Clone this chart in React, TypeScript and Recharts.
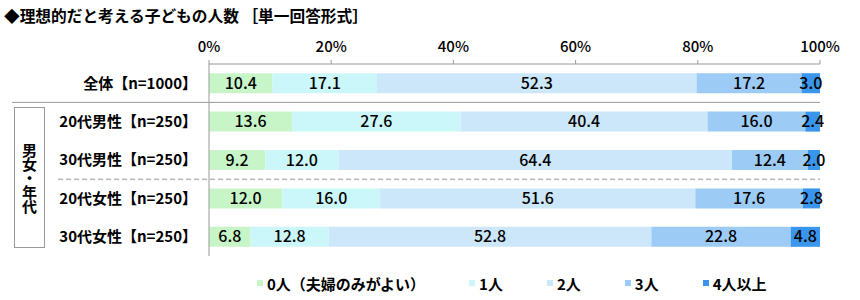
import React from 'react';
import { BarChart, Bar, XAxis, YAxis, LabelList, ReferenceLine, Legend } from 'recharts';

const title = '◆理想的だと考える子どもの人数 ［単一回答形式］';
const groupLabel = '男女・年代';
const categories = ['全体【n=1000】', '20代男性【n=250】', '30代男性【n=250】', '20代女性【n=250】', '30代女性【n=250】'];
const seriesNames = ['0人（夫婦のみがよい）', '1人', '2人', '3人', '4人以上'];
const zeroKids = [10.4, 13.6, 9.2, 12.0, 6.8];
const oneKid = [17.1, 27.6, 12.0, 16.0, 12.8];
const twoKids = [52.3, 40.4, 64.4, 51.6, 52.8];
const threeKids = [17.2, 16.0, 12.4, 17.6, 22.8];
const fourPlus = [3.0, 2.4, 2.0, 2.8, 4.8];
const xTicks = [0, 20, 40, 60, 80, 100];

const colors = ['#c8f5c8', '#ccf7fa', '#cce6fa', '#9ccbf5', '#3a96ec'];
const seriesValues = [zeroKids, oneKid, twoKids, threeKids, fourPlus];
const keys = ['s0', 's1', 's2', 's3', 's4'];

const data = categories.map((c, i) => {
  const row: any = { name: c };
  keys.forEach((k, j) => {
    row[k] = seriesValues[j][i];
  });
  return row;
});

const CJK = '"Noto Sans CJK JP", "Liberation Sans", sans-serif';

const LegendContent = (props: any) => {
  const payload = props.payload || [];
  return (
    <div style={{ display: 'flex', alignItems: 'center', height: 22, paddingLeft: 257, fontFamily: CJK, fontWeight: 700, fontSize: 15, color: '#000' }}>
      {payload.map((p: any, i: number) => (
        <div key={i} style={{ display: 'flex', alignItems: 'center', marginRight: 44 }}>
          <span style={{ display: 'inline-block', width: 6, height: 6, background: p.color, marginRight: 4 }} />
          <span>{p.value}</span>
        </div>
      ))}
    </div>
  );
};

const longLine = (leftX: number, dashed: boolean) => (p: any) => (
  <line
    x1={leftX}
    y1={p.y1}
    x2={p.x2}
    y2={p.y2}
    stroke="#999"
    strokeWidth={1}
    strokeDasharray={dashed ? '5 3' : undefined}
  />
);

export default function App() {
  return (
    <div style={{ position: 'absolute', left: 0, top: 0, width: 860, height: 300, background: '#fff' }}>
      <div style={{ position: 'absolute', left: 4, top: 6, fontFamily: CJK, fontWeight: 700, fontSize: 15.7, lineHeight: '20px', color: '#000', whiteSpace: 'nowrap' }}>
        {title}
      </div>
      <div
        style={{
          position: 'absolute',
          left: 14,
          top: 107,
          width: 31,
          height: 141,
          border: '1px solid #999',
          boxSizing: 'border-box',
          display: 'flex',
          alignItems: 'center',
          justifyContent: 'center',
          fontFamily: CJK,
          fontWeight: 700,
          fontSize: 15,
          color: '#000',
        }}
      >
        <span style={{ writingMode: 'vertical-rl', textOrientation: 'upright', lineHeight: 1, letterSpacing: -1 }}>{groupLabel}</span>
      </div>
      <BarChart
        width={860}
        height={300}
        data={data}
        layout="vertical"
        margin={{ top: 0, right: 40, bottom: 22, left: 0 }}
        barCategoryGap="24%"
      >
        <XAxis
          type="number"
          orientation="top"
          domain={[0, 100]}
          ticks={xTicks}
          tickFormatter={(v: number) => `${v}%`}
          height={64}
          axisLine={{ stroke: '#999' }}
          tickLine={{ stroke: '#999' }}
          tickSize={4}
          tickMargin={8}
          tick={{ fontFamily: CJK, fontWeight: 500, fontSize: 15, fill: '#000' }}
          allowDataOverflow
        />
        <YAxis
          type="category"
          dataKey="name"
          width={209}
          axisLine={{ stroke: '#999' }}
          tickLine={false}
          tickMargin={6}
          tick={{ fontFamily: CJK, fontWeight: 700, fontSize: 15, fill: '#000' }}
        />
        {keys.map((k, j) => (
          <Bar key={k} dataKey={k} name={seriesNames[j]} stackId="a" fill={colors[j]} isAnimationActive={false}>
            <LabelList
              dataKey={k}
              position="center"
              formatter={(v: any) => Number(v).toFixed(1)}
              style={{ fontFamily: CJK, fontWeight: 500, fontSize: 16, fill: '#000' }}
            />
          </Bar>
        ))}
        <ReferenceLine y={categories[1]} position="start" ifOverflow="visible" shape={longLine(12, false)} />
        <ReferenceLine y={categories[3]} position="start" ifOverflow="visible" shape={longLine(58, true)} />
        <Legend verticalAlign="bottom" content={<LegendContent />} wrapperStyle={{ left: 0, width: 860, bottom: 6 }} />
      </BarChart>
    </div>
  );
}
